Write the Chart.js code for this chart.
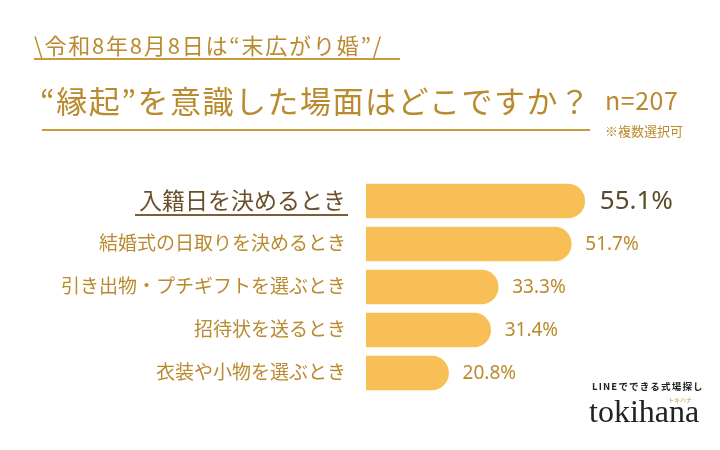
<!DOCTYPE html>
<html>
<head>
<meta charset="utf-8">
<script src="https://cdn.jsdelivr.net/npm/chart.js@4"></script>
<style>
  html, body { margin: 0; padding: 0; background: #fff; }
  #wrap { position: relative; width: 720px; height: 450px; overflow: hidden;
          font-family: "Noto Sans CJK JP", "Noto Sans", sans-serif; color: #b98a2e; }
  #wrap canvas { position: absolute; left: 0; top: 0; }
  .t { position: absolute; white-space: nowrap; line-height: 1; }
  #sub { left: 34px; top: 33px; font-size: 22px; letter-spacing: 1.8px; }
  #subLine { position: absolute; left: 34px; top: 58px; width: 366px; height: 2px; background: #c99a3a; }
  #title { left: 40px; top: 84px; font-size: 31px; letter-spacing: 1.5px; }
  #titleLine { position: absolute; left: 42px; top: 129px; width: 548px; height: 2px; background: #c99a3a; }
  #n { left: 605px; top: 87px; font-size: 25px; letter-spacing: 0.5px; }
  #note { left: 605px; top: 124px; font-size: 13px; }
  #logo1 { left: 592px; top: 382px; font-size: 9.5px; font-weight: bold; color: #222; letter-spacing: 1.2px; }
  #logo2 { left: 589px; top: 395px; font-size: 32px; color: #222; font-family: "Liberation Serif", "DejaVu Serif", serif; }
  #logo3 { left: 668px; top: 397px; font-size: 6px; color: #c99a3a; }
</style>
</head>
<body>
<div id="wrap">
  <canvas id="barChart" width="720" height="450"></canvas>
  <div class="t" id="sub">\令和8年8月8日は“末広がり婚”/</div>
  <div id="subLine"></div>
  <div class="t" id="title">“縁起”を意識した場面はどこですか？</div>
  <div id="titleLine"></div>
  <div class="t" id="n">n=207</div>
  <div class="t" id="note">※複数選択可</div>
  <div class="t" id="logo1">LINEでできる式場探し</div>
  <div class="t" id="logo2">tokihana</div>
  <div class="t" id="logo3">トキハナ</div>
</div>
<script>
// 回答項目と割合(%)
const labels = [
  '入籍日を決めるとき',
  '結婚式の日取りを決めるとき',
  '引き出物・プチギフトを選ぶとき',
  '招待状を送るとき',
  '衣装や小物を選ぶとき'
];
const values = [55.1, 51.7, 33.3, 31.4, 20.8];

// ラベルと数値を描くプラグイン
const labelPlugin = {
  id: 'labelPlugin',
  afterDatasetsDraw(chart) {
    const ctx = chart.ctx;
    const yScale = chart.scales.y;
    const meta = chart.getDatasetMeta(0);
    ctx.save();
    ctx.textBaseline = 'middle';
    labels.forEach((label, i) => {
      const y = yScale.getPixelForValue(i);
      const top = i === 0;
      // 項目名
      ctx.textAlign = 'right';
      ctx.fillStyle = top ? '#6b4f2a' : '#b98a2e';
      ctx.font = (top ? '23px' : '19px') + ' "Noto Sans CJK JP"';
      const lx = 346;
      ctx.fillText(label, lx, y - 1);
      if (top) {
        const w = ctx.measureText(label).width;
        ctx.fillStyle = '#7a5e36';
        ctx.fillRect(lx - w - 4, y + 13, w + 6, 2);
      }
      // 数値
      const bar = meta.data[i];
      ctx.textAlign = 'left';
      ctx.fillStyle = top ? '#5b4a2a' : '#b98a2e';
      ctx.font = (top ? '26px' : '19px') + ' "Noto Sans", sans-serif';
      ctx.fillText(values[i].toFixed(1) + '%', bar.x + (top ? 15 : 14), y + 1);
    });
    ctx.restore();
  }
};

const ctx = document.getElementById('barChart').getContext('2d');
new Chart(ctx, {
  type: 'bar',
  data: {
    labels: labels,
    datasets: [{
      data: values,
      backgroundColor: '#f8bf57',
      borderRadius: 18,
      barThickness: 34
    }]
  },
  options: {
    indexAxis: 'y',
    responsive: false,
    animation: false,
    layout: { padding: { left: 366, right: 20.5, top: 179.5, bottom: 55.5 } },
    plugins: { legend: { display: false }, tooltip: { enabled: false } },
    scales: {
      x: { display: false, min: 0, max: 84 },
      y: { display: false }
    }
  },
  plugins: [labelPlugin]
});
</script>
</body>
</html>
